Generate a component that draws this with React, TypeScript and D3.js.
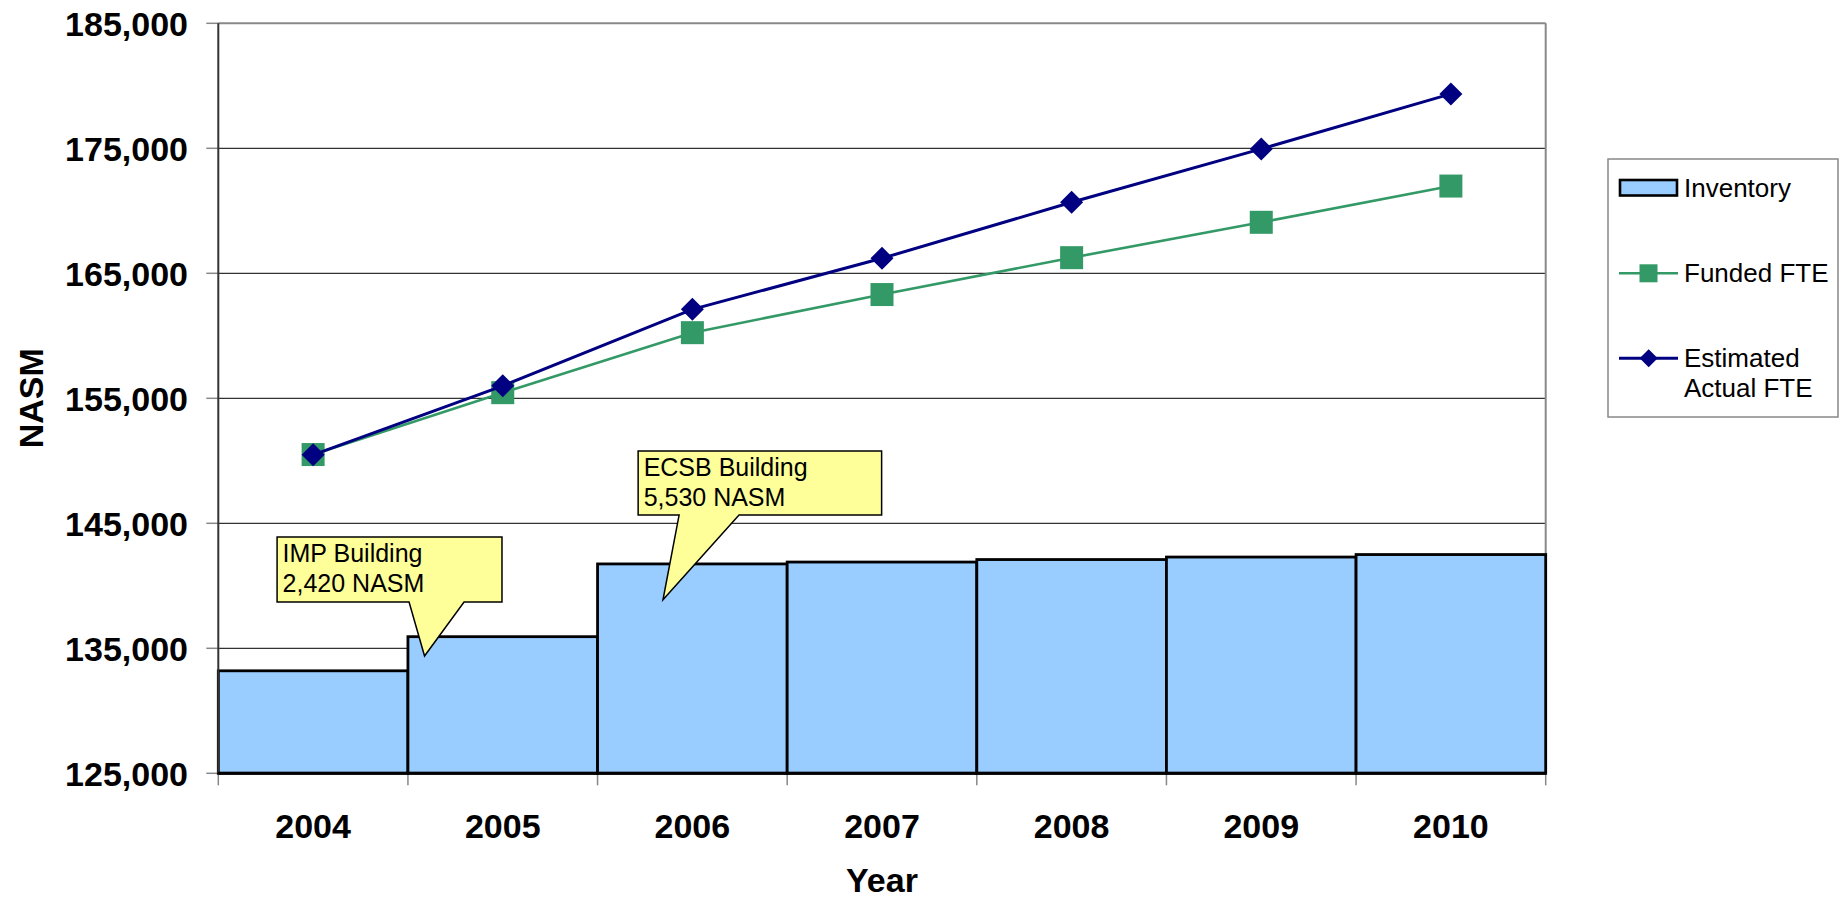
import React from "react";
import * as d3 from "d3";

const years = ["2004", "2005", "2006", "2007", "2008", "2009", "2010"];
const inventory = [133200, 135930, 141750, 141900, 142100, 142300, 142500];
const fundedFTE = [150500, 155450, 160250, 163300, 166250, 169080, 171980];
const estimatedFTE = [150480, 156000, 162120, 166200, 170680, 174950, 179350];
const yTicks = [125000, 135000, 145000, 155000, 165000, 175000, 185000];

// callouts: box in (category units, values), pointer base & tip
const callouts = [
  { lines: ["IMP Building", "2,420 NASM"], box: [0.31, 1.496, 143900, 138700], base: [1.006, 1.296], tip: [1.0876, 134380] },
  { lines: ["ECSB Building", "5,530 NASM"], box: [2.214, 3.498, 150780, 145660], base: [2.43, 2.746], tip: [2.345, 138880] },
];

const W = 1843;
const H = 901;
const M = { left: 218.3, right: 1545.7, top: 23.3, bottom: 773.3 };
const FONT = "'Liberation Sans', Arial, Helvetica, sans-serif";

export default function App() {
  const x = d3.scaleBand<string>().domain(years).range([M.left, M.right]).padding(0);
  const xu = d3.scaleLinear().domain([0, years.length]).range([M.left, M.right]);
  const y = d3.scaleLinear().domain([125000, 185000]).range([M.bottom, M.top]);
  const cx = (i: number) => (x(years[i]) as number) + x.bandwidth() / 2;

  const line = d3
    .line<number>()
    .x((_, i) => cx(i))
    .y((d) => y(d));

  const boundaries = d3.range(years.length + 1).map((i) => xu(i));

  return (
    <div style={{ position: "absolute", left: 0, top: 0 }}>
      <svg width={W} height={H} style={{ display: "block", background: "#fff" }} fontFamily={FONT}>
        {/* gridlines */}
        {yTicks.slice(1, -1).map((t) => (
          <line key={t} x1={M.left} x2={M.right} y1={y(t)} y2={y(t)} stroke="#333" strokeWidth={1.3} />
        ))}
        {/* plot border top/right */}
        <line x1={M.left} x2={M.right} y1={M.top} y2={M.top} stroke="#888" strokeWidth={2} />
        <line x1={M.right} x2={M.right} y1={M.top} y2={M.bottom} stroke="#888" strokeWidth={2} />
        {/* y ticks */}
        {yTicks.map((t) => (
          <g key={t}>
            <line x1={M.left - 12} x2={M.left} y1={y(t)} y2={y(t)} stroke="#888" strokeWidth={1.5} />
            <text x={188} y={y(t) + 12.5} textAnchor="end" fontSize={34} fontWeight="bold" fill="#000">
              {d3.format(",")(t)}
            </text>
          </g>
        ))}
        {/* x ticks */}
        {boundaries.map((b, i) => (
          <line key={i} x1={b} x2={b} y1={M.bottom} y2={M.bottom + 12} stroke="#888" strokeWidth={1.5} />
        ))}
        {/* bars */}
        {inventory.map((v, i) => (
          <rect
            key={i}
            x={x(years[i]) as number}
            y={y(v)}
            width={x.bandwidth()}
            height={y(125000) - y(v)}
            fill="#99CCFF"
            stroke="#000"
            strokeWidth={2.8}
          />
        ))}
        {/* left axis & baseline */}
        <line x1={M.left} x2={M.left} y1={M.top} y2={M.bottom} stroke="#333" strokeWidth={2} />
        <line x1={M.left} x2={M.right} y1={M.bottom} y2={M.bottom} stroke="#000" strokeWidth={3} />
        {/* callouts */}
        {callouts.map((c, k) => {
          const [u0, u1, vTop, vBot] = c.box;
          const x0 = xu(u0), x1 = xu(u1), y0 = y(vTop), y1 = y(vBot);
          const b0 = xu(c.base[0]), b1 = xu(c.base[1]);
          const tx = xu(c.tip[0]), ty = y(c.tip[1]);
          const d = `M${x0},${y0} L${x1},${y0} L${x1},${y1} L${b1},${y1} L${tx},${ty} L${b0},${y1} L${x0},${y1} Z`;
          return (
            <g key={k}>
              <path d={d} fill="#FFFF99" stroke="#000" strokeWidth={1.5} strokeLinejoin="miter" />
              {c.lines.map((l, j) => (
                <text key={j} x={x0 + 5.5} y={y0 + 25 + j * 30} fontSize={25} fill="#000">
                  {l}
                </text>
              ))}
            </g>
          );
        })}
        {/* Funded FTE */}
        <path d={line(fundedFTE) as string} fill="none" stroke="#339966" strokeWidth={2.6} />
        {fundedFTE.map((v, i) => (
          <rect key={i} x={cx(i) - 11.5} y={y(v) - 11.5} width={23} height={23} fill="#339966" />
        ))}
        {/* Estimated Actual FTE */}
        <path d={line(estimatedFTE) as string} fill="none" stroke="#000080" strokeWidth={3} />
        {estimatedFTE.map((v, i) => {
          const px = cx(i), py = y(v), r = 11.5;
          return <path key={i} d={`M${px},${py - r} L${px + r},${py} L${px},${py + r} L${px - r},${py} Z`} fill="#000080" />;
        })}
        {/* x labels */}
        {years.map((yr, i) => (
          <text key={yr} x={cx(i)} y={838} textAnchor="middle" fontSize={34} fontWeight="bold" fill="#000">
            {yr}
          </text>
        ))}
        <text x={(M.left + M.right) / 2} y={892} textAnchor="middle" fontSize={34} fontWeight="bold" fill="#000">
          Year
        </text>
        <text
          transform={`translate(43,${(M.top + M.bottom) / 2}) rotate(-90)`}
          textAnchor="middle"
          fontSize={34}
          fontWeight="bold"
          fill="#000"
        >
          NASM
        </text>
        {/* legend */}
        <g>
          <rect x={1608} y={159} width={230} height={258} fill="#fff" stroke="#888" strokeWidth={1.5} />
          <rect x={1620} y={180} width={57} height={15.5} fill="#99CCFF" stroke="#000" strokeWidth={2.6} />
          <text x={1684} y={196.7} fontSize={26} fill="#000">Inventory</text>
          <line x1={1619} x2={1678} y1={273.3} y2={273.3} stroke="#339966" strokeWidth={2.6} />
          <rect x={1639.5} y={264.3} width={18} height={18} fill="#339966" />
          <text x={1684} y={281.7} fontSize={26} fill="#000">Funded FTE</text>
          <line x1={1619} x2={1678} y1={358.3} y2={358.3} stroke="#000080" strokeWidth={3} />
          <path d={`M1648.7,349.3 L1657.7,358.3 L1648.7,367.3 L1639.7,358.3 Z`} fill="#000080" />
          <text x={1684} y={366.7} fontSize={26} fill="#000">Estimated</text>
          <text x={1684} y={396.7} fontSize={26} fill="#000">Actual FTE</text>
        </g>
      </svg>
    </div>
  );
}
